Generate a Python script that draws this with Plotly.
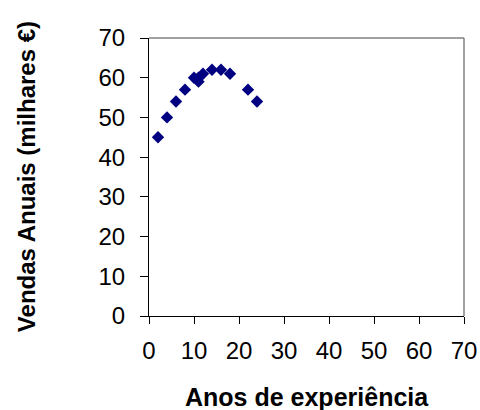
import plotly.graph_objects as go

# Years of experience vs annual sales (thousand €)
anos = [2, 4, 6, 8, 10, 11, 11, 12, 14, 16, 18, 22, 24]
vendas = [45, 50, 54, 57, 60, 59, 60, 61, 62, 62, 61, 57, 54]
ticks = [0, 10, 20, 30, 40, 50, 60, 70]

FONT = "Liberation Sans, Arial, sans-serif"

fig = go.Figure(
    go.Scatter(
        x=anos, y=vendas, mode="markers",
        marker=dict(symbol="diamond", size=9.5, color="#000080",
                    line=dict(width=0)),
        showlegend=False,
    )
)

axis_common = dict(
    range=[0, 70], tickvals=ticks, ticktext=[str(t) for t in ticks],
    showgrid=False, zeroline=False, showline=True, linecolor="black",
    linewidth=1, ticks="outside", tickcolor="black", tickwidth=1,
    tickfont=dict(family=FONT, size=24, color="black"),
)

fig.update_layout(
    width=480, height=410,
    margin=dict(l=149, r=16, t=38, b=94, autoexpand=False),
    paper_bgcolor="white", plot_bgcolor="white",
    xaxis=dict(**axis_common, ticklen=7, ticklabelstandoff=6),
    yaxis=dict(**axis_common, ticklen=8, ticklabelstandoff=10),
    shapes=[
        dict(type="line", xref="paper", yref="paper", x0=0, x1=1, y0=1, y1=1,
             line=dict(color="#808080", width=1.5)),
        dict(type="line", xref="paper", yref="paper", x0=1, x1=1, y0=0, y1=1,
             line=dict(color="#808080", width=1.5)),
    ],
    annotations=[
        dict(text="<b>Anos de experiência</b>", xref="paper", yref="paper",
             x=0.5, y=-0.292, xanchor="center", yanchor="middle",
             showarrow=False, font=dict(family=FONT, size=25, color="black")),
        dict(text="<b>Vendas Anuais (milhares €)</b>", xref="paper",
             yref="paper", x=-0.39, y=0.5, xanchor="center",
             yanchor="middle", textangle=-90, showarrow=False,
             font=dict(family=FONT, size=24, color="black")),
    ],
)

fig.write_html("out.html")
